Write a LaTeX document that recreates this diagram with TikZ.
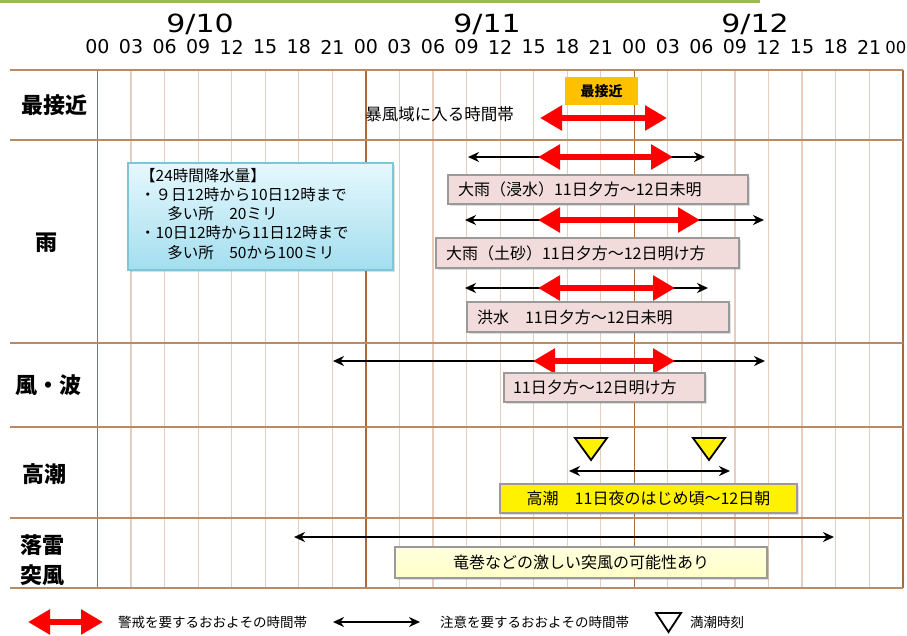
\documentclass[tikz,border=0pt]{standalone}
\usepackage{fontspec}
\setmainfont{Liberation Sans}
\newfontfamily\jp{Noto Sans CJK JP}
\newfontfamily\dv{DejaVu Sans}
\usetikzlibrary{arrows.meta,shadows}
\definecolor{gridlight}{HTML}{E6CDBE}
\definecolor{griddark}{HTML}{A8693C}
\definecolor{hline}{HTML}{B98A64}
\definecolor{pinkbox}{HTML}{F2DCDB}
\definecolor{boxedge}{HTML}{9A9A9A}
\definecolor{infotop}{HTML}{E6F8FD}
\definecolor{infobot}{HTML}{A3DEEF}
\definecolor{infoedge}{HTML}{7CC6D8}
\definecolor{orangebox}{HTML}{FFC000}
\definecolor{lightyel}{HTML}{FFFFC8}
\definecolor{topgreen}{HTML}{9BBB59}
\tikzset{
  warn/.style={draw=red, line width=6pt, {Triangle[length=22pt,width=24pt]}-{Triangle[length=22pt,width=24pt]}},
  note/.style={draw=black, line width=2pt, {Stealth[length=11pt,width=10pt]}-{Stealth[length=11pt,width=10pt]}},
  gridthin/.style={draw=gridlight, line width=1.2pt},
  gridday/.style={draw=griddark, line width=1.6pt},
  hrule/.style={draw=hline, line width=2pt},
  hourlbl/.style={font=\dv\fontsize{19}{19}\selectfont, inner sep=0pt},
  datelbl/.style={font=\dv\fontsize{25}{25}\selectfont, inner sep=0pt},
  rowlbl/.style={font=\jp\bfseries\fontsize{22}{30}\selectfont, inner sep=0pt, align=center},
  pbox/.style={draw=boxedge, line width=1.6pt, fill=pinkbox, inner ysep=0pt, inner xsep=10pt, align=left,
     font=\jp\fontsize{16}{18}\selectfont, minimum height=29pt,
     drop shadow={shadow xshift=1.5pt, shadow yshift=-1.5pt, opacity=0.25}},
  cbox/.style={draw=boxedge, line width=1.6pt, inner sep=0pt, align=center,
     font=\jp\fontsize{16}{18}\selectfont,
     drop shadow={shadow xshift=1.5pt, shadow yshift=-1.5pt, opacity=0.25}},
  legtxt/.style={font=\jp\fontsize{13.5}{16}\selectfont, inner sep=0pt, anchor=west},
  tri/.style={draw=black, line width=1.8pt, line join=miter}
}
\begin{document}
\begin{tikzpicture}[x=1pt,y=-1pt]
\useasboundingbox (0,0) rectangle (907,635);
\fill[white] (0,0) rectangle (907,635);
% top green line
\coordinate (g1) at (0,1.5);
\coordinate (g2) at (760,1.5);
\draw[topgreen, line width=2.5pt] (g1) -- (g2);
% dates
\node[datelbl] (d10) at (200,24) {\scalebox{1.2}[1]{9/10}};
\node[datelbl] (d11) at (487,24) {\scalebox{1.2}[1]{9/11}};
\node[datelbl] (d12) at (755,24) {\scalebox{1.2}[1]{9/12}};
% hour labels
\foreach \k/\t in {0/00,1/03,2/06,3/09,4/12,5/15,6/18,7/21,8/00,9/03,10/06,11/09,12/12,13/15,14/18,15/21,16/00,17/03,18/06,19/09,20/12,21/15,22/18,23/21}
  \node[hourlbl] (h\k) at ({97.5+33.55*\k},47) {\t};
\node[hourlbl, font=\dv\fontsize{16.5}{17}\selectfont, anchor=east] (h24) at (906.5,47) {00};
% grid
\foreach \k in {1,...,23}
  \draw[gridthin] ({97.5+33.55*\k},70) -- ({97.5+33.55*\k},588);
\foreach \k in {0,8,16,24}
  \draw[gridday] ({97.5+33.55*\k},70) -- ({97.5+33.55*\k},588);
\foreach \y in {70,140,343,427,518,588}
  \draw[hrule] (10,\y) -- (903,\y);
% row labels
\node[rowlbl] (l1) at (54,105) {最接近};
\node[rowlbl] (l2) at (46,243) {雨};
\node[rowlbl] (l3) at (48,385) {風・波};
\node[rowlbl] (l4) at (45,474) {高潮};
\node[rowlbl] (l5) at (42,560) {落雷\\突風};
% row 1
\node[fill=orangebox, minimum width=73pt, minimum height=28pt, inner sep=0pt,
      font=\jp\bfseries\fontsize{14}{16}\selectfont] (sek) at (601.5,91) {最接近};
\node[font=\jp\fontsize{16.5}{18}\selectfont, inner sep=0pt, anchor=east] (bof) at (514,114) {暴風域に入る時間帯};
\coordinate (a1l) at (540,118); \coordinate (a1r) at (667,118);
\draw[warn] (a1l) -- (a1r);
% info box
\node[draw=infoedge, line width=1.2pt, top color=infotop, bottom color=infobot,
      minimum width=265pt, minimum height=107pt, inner sep=0pt,
      drop shadow={shadow xshift=1.5pt, shadow yshift=-1.5pt, opacity=0.25}] (info) at (260.5,216.5) {};
\node[font=\jp\fontsize{15.5}{19.2}\selectfont, align=left, inner sep=0pt, anchor=north west] (infot) at (140,168)
  {【24時間降水量】\\・９日12時から10日12時まで\\\hspace{1.75em}多い所　20ミリ\\・10日12時から11日12時まで\\\hspace{1.75em}多い所　50から100ミリ};
% rain arrows and boxes
\coordinate (r1a) at (468,157); \coordinate (r1b) at (705,157);
\coordinate (r1c) at (538,157); \coordinate (r1d) at (673,157);
\draw[note] (r1a) -- (r1b); \draw[warn] (r1c) -- (r1d);
\node[pbox, text width=280pt, minimum height=29pt] (b1) at (598,189.5) {大雨（浸水）11日夕方～12日未明};
\coordinate (r2a) at (465,220); \coordinate (r2b) at (764,220);
\coordinate (r2c) at (538,220); \coordinate (r2d) at (700,220);
\draw[note] (r2a) -- (r2b); \draw[warn] (r2c) -- (r2d);
\node[pbox, text width=283pt, minimum height=30pt] (b2) at (587.5,253) {大雨（土砂）11日夕方～12日明け方};
\coordinate (r3a) at (465,288); \coordinate (r3b) at (708,288);
\coordinate (r3c) at (538,288); \coordinate (r3d) at (675,288);
\draw[note] (r3a) -- (r3b); \draw[warn] (r3c) -- (r3d);
\node[pbox, text width=242pt, minimum height=30pt] (b3) at (598,317) {洪水　11日夕方～12日未明};
% wind
\coordinate (w1a) at (333,361); \coordinate (w1b) at (765,361);
\coordinate (w1c) at (533,361); \coordinate (w1d) at (675,361);
\draw[note] (w1a) -- (w1b); \draw[warn] (w1c) -- (w1d);
\node[pbox, inner xsep=9pt, text width=183pt, minimum height=29pt] (b4) at (604.5,387.5) {11日夕方～12日明け方};
% high tide
\draw[tri, fill=yellow] (575,438) -- (607,438) -- (591,460) -- cycle;
\draw[tri, fill=yellow] (693,438) -- (725,438) -- (709,460) -- cycle;
\coordinate (t1a) at (569,471); \coordinate (t1b) at (730,471);
\draw[note] (t1a) -- (t1b);
\node[cbox, fill=yellow, minimum width=297pt, minimum height=29pt] (b5) at (648.5,498.5) {高潮　11日夜のはじめ頃～12日朝};
% lightning
\coordinate (k1a) at (294,537); \coordinate (k1b) at (834,537);
\draw[note] (k1a) -- (k1b);
\node[cbox, top color=white!40!lightyel, bottom color=lightyel, minimum width=372pt, minimum height=31pt] (b6) at (581,562.5) {竜巻などの激しい突風の可能性あり};
% legend
\coordinate (lg1a) at (28,622); \coordinate (lg1b) at (103,622);
\draw[warn] (lg1a) -- (lg1b);
\node[legtxt] (lgt1) at (118,622) {警戒を要するおおよその時間帯};
\coordinate (lg2a) at (333,622); \coordinate (lg2b) at (420,622);
\draw[note] (lg2a) -- (lg2b);
\node[legtxt] (lgt2) at (440,622) {注意を要するおおよその時間帯};
\draw[tri, fill=white] (656,613) -- (681,613) -- (668.5,632) -- cycle;
\node[legtxt] (lgt3) at (690,622) {満潮時刻};
\end{tikzpicture}
\end{document}
